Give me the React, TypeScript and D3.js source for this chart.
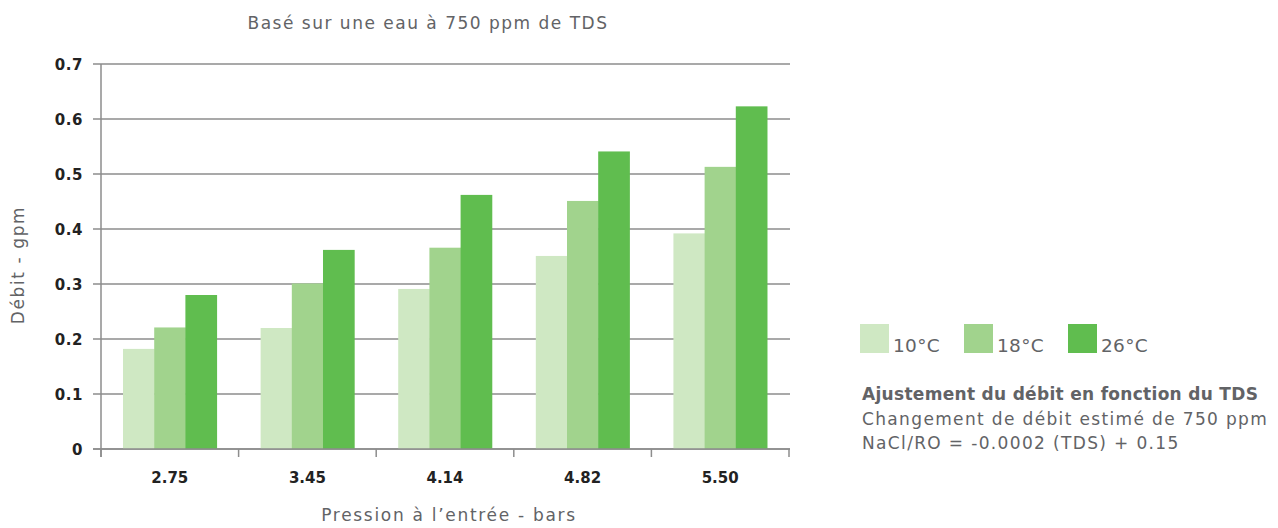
import React from "react";
import * as d3 from "d3";

const categories = ["2.75", "3.45", "4.14", "4.82", "5.50"];
const seriesNames = ["10°C", "18°C", "26°C"];
const values10 = [0.182, 0.22, 0.291, 0.351, 0.392];
const values18 = [0.221, 0.301, 0.366, 0.451, 0.513];
const values26 = [0.28, 0.362, 0.462, 0.541, 0.623];
const yTicks = [0, 0.1, 0.2, 0.3, 0.4, 0.5, 0.6, 0.7];
const colors = ["#cfe8c3", "#a1d38d", "#60bd4f"];
const noteLines = [
  "Ajustement du débit en fonction du TDS",
  "Changement de débit estimé de 750 ppm",
  "NaCl/RO = -0.0002 (TDS) + 0.15",
];

export default function App() {
  const left = 101, right = 789, top = 64, bottom = 449;
  const x = d3.scaleBand<string>().domain(categories).range([left, right]).paddingInner(0.32).paddingOuter(0.16);
  const xs = d3.scaleBand<string>().domain(seriesNames).range([0, x.bandwidth()]);
  const y = d3.scaleLinear().domain([0, 0.7]).range([bottom, top]);
  const series = [values10, values18, values26];
  const step = (right - left) / categories.length;
  const gridColor = "#8d8d8d";
  const textGray = "#626366";
  const font = "'DejaVu Sans', sans-serif";
  const tickFont = "'DejaVu Sans', Verdana, sans-serif";
  return (
    <svg width={1278} height={528} style={{ position: "absolute", left: 0, top: 0 }} fontFamily={font}>
      <rect width={1278} height={528} fill="#fff" />
      {yTicks.map((t) => (
        <g key={t}>
          <line x1={left - 8} x2={right + 1} y1={y(t)} y2={y(t)} stroke={gridColor} strokeWidth={1.5} />
          <text x={83} y={y(t) + 6} textAnchor="end" fontFamily={tickFont} fontWeight="bold" fontSize={15} letterSpacing={0.6} fill="#222">
            {t === 0 ? "0" : t.toFixed(1)}
          </text>
        </g>
      ))}
      {series.map((vals, si) =>
        categories.map((c, ci) => (
          <rect
            key={si + "-" + c}
            x={(x(c) as number) + (xs(seriesNames[si]) as number)}
            y={y(vals[ci])}
            width={xs.bandwidth() + 0.5}
            height={bottom - y(vals[ci])}
            fill={colors[si]}
          />
        ))
      )}
      <line x1={left} x2={left} y1={top} y2={bottom + 8} stroke={gridColor} strokeWidth={1.5} />
      <line x1={left - 8} x2={right + 1} y1={bottom} y2={bottom} stroke={gridColor} strokeWidth={1.5} />
      {d3.range(categories.length + 1).map((i) => (
        <line key={i} x1={left + i * step} x2={left + i * step} y1={bottom} y2={bottom + 8} stroke={gridColor} strokeWidth={1.5} />
      ))}
      {categories.map((c) => (
        <text key={c} x={(x(c) as number) + x.bandwidth() / 2} y={483} textAnchor="middle" fontFamily={tickFont} fontWeight="bold" fontSize={15} fill="#222">
          {c}
        </text>
      ))}
      <text x={428} y={29} textAnchor="middle" fontSize={17} letterSpacing={1.5} fill={textGray}>
        Basé sur une eau à 750 ppm de TDS
      </text>
      <text x={449} y={521} textAnchor="middle" fontSize={17} letterSpacing={1.7} fill={textGray}>
        Pression à l’entrée - bars
      </text>
      <text transform="translate(23.5,265) rotate(-90)" textAnchor="middle" fontSize={17} letterSpacing={1.6} fill={textGray}>
        Débit  - gpm
      </text>
      {seriesNames.map((s, i) => (
        <g key={s}>
          <rect x={860 + i * 104} y={324} width={29} height={29} fill={colors[i]} />
          <text x={893} dx={i * 104} y={352} fontSize={18.5} letterSpacing={0.3} fill={textGray}>
            {s}
          </text>
        </g>
      ))}
      {noteLines.map((l, i) => (
        <text key={l} x={862} y={400 + i * 24.5} fontSize={17} letterSpacing={i === 0 ? 0.3 : 1.35} fontWeight={i === 0 ? "bold" : "normal"} fill={textGray}>
          {l}
        </text>
      ))}
    </svg>
  );
}
